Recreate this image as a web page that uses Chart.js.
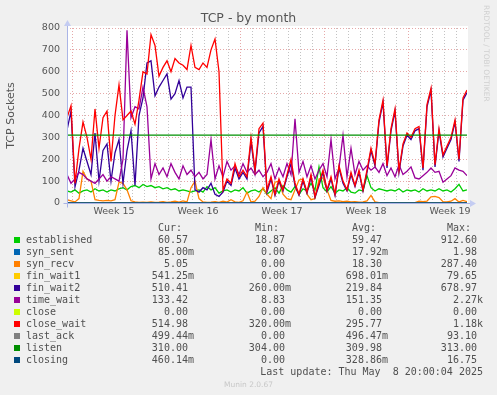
<!DOCTYPE html>
<html>
<head>
<meta charset="utf-8">
<style>
  body { margin: 0; width: 497px; height: 395px; overflow: hidden; position: relative; background: #f0f0f0; font-family: "DejaVu Sans", sans-serif; }
  #chart { position: absolute; left: 0; top: 0; }
  .title { position: absolute; left: 0; top: 11px; width: 497px; text-align: center; font-size: 12.5px; line-height: 14px; color: #555; }
  .rrd { position: absolute; left: 482px; top: 5px; writing-mode: vertical-rl; font-size: 7.5px; color: #d0d0d0; }
  .mono { position: absolute; font-family: "DejaVu Sans Mono", monospace; font-size: 10px; line-height: 12px; color: #505050; white-space: pre; }
  .sq { position: absolute; left: 14px; width: 6px; height: 6px; }
  .footer { position: absolute; left: 0; top: 380px; width: 497px; text-align: center; font-size: 7.5px; color: #c8c8c8; }
</style>
</head>
<body>
<canvas id="chart" width="497" height="395"></canvas>
<div class="title">TCP - by month</div>
<div class="rrd">RRDTOOL / TOBI OETIKER</div>
<div id="legend"></div>
<div class="footer">Munin 2.0.67</div>

<script src="https://cdn.jsdelivr.net/npm/chart.js@4.4.0/dist/chart.umd.min.js"></script>
<script>
  // one sample every 8 hours, 33 days and a bit (800 h)
  const STEP_HOURS = 8

  const established = [55, 50, 60, 45, 55, 60, 50, 65, 55, 60,
    50, 60, 55, 65, 70, 60, 75, 80, 70, 85,
    75, 80, 70, 75, 65, 70, 60, 65, 55, 60,
    55, 50, 55, 60, 50, 75, 60, 70, 45, 55,
    60, 50, 60, 55, 70, 45, 55, 60, 50, 65,
    40, 55, 70, 45, 80, 60, 50, 75, 40, 65,
    55, 90, 60, 165, 70, 50, 75, 45, 60, 55,
    70, 50, 45, 60, 55, 125, 70, 55, 65, 60,
    55, 60, 55, 65, 50, 60, 55, 60, 50, 65,
    55, 60, 55, 65, 55, 60, 50, 65, 85, 55,
    60]

  const synRecv = [15, 10, 5, 20, 145, 110, 100, 15, 12, 10,
    12, 10, 15, 95, 90, 60, 10, 5, 3, 4,
    3, 5, 3, 4, 6, 3, 5, 8, 4, 10,
    5, 70, 100, 20, 5, 3, 4, 6, 3, 8,
    4, 15, 5, 3, 10, 50, 5, 8, 30, 70,
    40, 20, 95, 100, 40, 20, 15, 60, 105, 110,
    40, 15, 20, 110, 115, 60, 12, 8, 10, 6,
    8, 5, 6, 4, 5, 10, 35, 5, 2, 1,
    1, 0, 1, 0, 1, 0, 1, 2, 8, 6,
    9, 28, 30, 25, 6, 5, 8, 20, 5, 12,
    6]

  const finWait2 = [333, 420, 74, 150, 250, 190, 130, 320, 100, 240,
    270, 100, 230, 290, 90, 240, 330, 80, 400, 480,
    640, 650, 490, 530, 560, 590, 475, 500, 560, 480,
    530, 530, 60, 50, 70, 60, 90, 40, 30, 50,
    100, 80, 160, 110, 140, 110, 280, 140, 320, 350,
    50, 110, 35, 100, 55, 120, 180, 80, 35, 100,
    45, 120, 25, 80, 140, 55, 110, 35, 160, 90,
    55, 130, 75, 140, 55, 140, 240, 170, 370, 460,
    160, 330, 420, 140, 260, 310, 290, 330, 340, 150,
    440, 515, 165, 330, 210, 250, 290, 370, 190, 470,
    505]

  const timeWait = [130, 90, 110, 140, 130, 110, 100, 90, 110, 130,
    100, 120, 110, 100, 200, 790, 390, 440, 430, 530,
    440, 110, 180, 130, 160, 120, 180, 140, 110, 170,
    130, 150, 120, 140, 110, 130, 290, 110, 170, 120,
    190, 150, 170, 130, 180, 140, 160, 130, 150, 120,
    140, 180, 110, 160, 120, 180, 130, 385, 140, 190,
    120, 170, 110, 150, 180, 120, 290, 110, 160, 310,
    120, 250, 130, 190, 150, 170, 150, 165, 140, 180,
    125, 160, 120, 175, 130, 145, 165, 115, 110, 125,
    140, 160, 140, 145, 95, 110, 125, 160, 150, 145,
    125]

  const closeWait = [390, 445, 90, 250, 370, 300, 200, 430, 250, 390,
    420, 190, 400, 540, 380, 400, 420, 360, 470, 600,
    590, 770, 720, 580, 620, 650, 600, 660, 640, 630,
    610, 720, 620, 610, 640, 620, 700, 750, 600, 60,
    110, 90, 180, 120, 150, 120, 300, 150, 340, 365,
    60, 120, 40, 110, 60, 130, 200, 90, 40, 110,
    50, 130, 30, 90, 150, 60, 120, 40, 170, 100,
    60, 140, 80, 150, 60, 150, 250, 180, 380, 470,
    170, 340, 430, 150, 270, 320, 300, 340, 350, 160,
    450, 525, 175, 340, 220, 260, 300, 380, 200, 480,
    516]

  // series that stay flat for the whole month
  const flatHours = [0, 800]
  const synSent = [0, 0]
  const finWait1 = [0, 0]
  const closeState = [0, 0]
  const lastAck = [0, 0]
  const listen = [310, 310]
  const closing = [0, 0]

  const fieldNames = ['established', 'syn_sent', 'syn_recv', 'fin_wait1', 'fin_wait2', 'time_wait', 'close', 'close_wait', 'last_ack', 'listen', 'closing']
  const fieldColors = ['#00CC00', '#0066B3', '#FF8000', '#FFCC00', '#330099', '#990099', '#CCFF00', '#FF0000', '#808080', '#008F00', '#00487D']
  const curText = ['60.57', '85.00m', '5.05', '541.25m', '510.41', '133.42', '0.00', '514.98', '499.44m', '310.00', '460.14m']
  const minText = ['18.87', '0.00', '0.00', '0.00', '260.00m', '8.83', '0.00', '320.00m', '0.00', '304.00', '0.00']
  const avgText = ['59.47', '17.92m', '18.30', '698.01m', '219.84', '151.35', '0.00', '295.77', '496.47m', '309.98', '328.86m']
  const maxText = ['912.60', '1.98', '287.40', '79.65', '678.97', '2.27k', '0.00', '1.18k', '93.10', '313.00', '16.75']

  const weekLabels = ['Week 15', 'Week 16', 'Week 17', 'Week 18', 'Week 19']
  const weekMid = [94, 262, 430, 598, 766]
  const firstMonday = 10

  const hours = established.map((_, i) => i * STEP_HOURS)
  const series = [
    [hours, established], [flatHours, synSent], [hours, synRecv], [flatHours, finWait1],
    [hours, finWait2], [hours, timeWait], [flatHours, closeState], [hours, closeWait],
    [flatHours, lastAck], [flatHours, listen], [flatHours, closing]
  ]

  const dayLines = []
  for (let h = firstMonday; h < 800; h += 24) dayLines.push(h)
  const xTickHours = dayLines.concat(weekMid).sort((a, b) => a - b)

  const majorGrid = 'rgba(222, 140, 140, 0.75)'
  const minorGrid = 'rgba(180, 180, 180, 0.8)'

  const plotFrame = {
    id: 'plotFrame',
    beforeDraw(chart) {
      const { ctx, chartArea: a } = chart
      ctx.save()
      ctx.fillStyle = '#ffffff'
      ctx.fillRect(a.left, a.top - 2, a.right - a.left + 1, a.bottom - a.top + 2)
      ctx.restore()
    },
    afterDatasetsDraw(chart) {
      const { ctx, chartArea: a } = chart
      const l = Math.round(a.left) + 0.5
      const b = Math.round(a.bottom) + 0.5
      ctx.save()
      ctx.strokeStyle = '#aab4e6'
      ctx.fillStyle = '#c4ccf2'
      ctx.lineWidth = 1
      ctx.beginPath()
      ctx.moveTo(l - 4, b); ctx.lineTo(a.right + 4, b)
      ctx.moveTo(l, b + 4); ctx.lineTo(l, a.top - 3)
      ctx.stroke()
      ctx.beginPath()
      ctx.moveTo(a.right + 9, b); ctx.lineTo(a.right + 3, b - 3.5); ctx.lineTo(a.right + 3, b + 3.5)
      ctx.fill()
      ctx.beginPath()
      ctx.moveTo(l, a.top - 8); ctx.lineTo(l - 3.5, a.top - 2); ctx.lineTo(l + 3.5, a.top - 2)
      ctx.fill()
      ctx.restore()
    }
  }

  Chart.defaults.font.family = '"DejaVu Sans", sans-serif'

  new Chart(document.getElementById('chart'), {
    type: 'line',
    data: {
      datasets: series.map(([xs, ys], i) => ({
        label: fieldNames[i],
        data: ys.map((y, k) => ({ x: xs[k], y })),
        borderColor: fieldColors[i],
        backgroundColor: fieldColors[i],
        borderWidth: 1.3,
        pointRadius: 0,
        tension: 0,
        order: fieldNames.length - i
      }))
    },
    options: {
      responsive: false,
      animation: false,
      devicePixelRatio: 1,
      layout: { padding: { top: 28, right: 30, left: 0, bottom: 0 } },
      plugins: { legend: { display: false }, tooltip: { enabled: false }, title: { display: false } },
      scales: {
        x: {
          type: 'linear',
          min: 0,
          max: 800,
          afterBuildTicks: s => { s.ticks = xTickHours.map(v => ({ value: v })) },
          afterFit: s => { s.height = 192 },
          ticks: {
            autoSkip: false,
            maxRotation: 0,
            padding: 3,
            color: '#555',
            font: { size: 9.5 },
            callback: v => {
              const k = weekMid.indexOf(v)
              return k >= 0 ? weekLabels[k] : ''
            }
          },
          grid: {
            drawTicks: false,
            color: c => {
              const v = c.tick.value
              if (weekMid.includes(v)) return 'rgba(0,0,0,0)'
              return (v - firstMonday) % 168 === 0 ? majorGrid : minorGrid
            }
          },
          border: { display: false, dash: [1, 2] }
        },
        y: {
          min: 0,
          max: 800,
          afterFit: s => { s.width = 67 },
          ticks: {
            stepSize: 50,
            padding: 7,
            color: '#555',
            font: { size: 9.5 },
            callback: v => (v % 100 === 0 ? v : '')
          },
          title: { display: true, text: 'TCP Sockets', color: '#555', font: { size: 11 }, padding: { top: 5, bottom: 0 } },
          grid: {
            drawTicks: false,
            color: c => (c.tick.value % 100 === 0 ? majorGrid : minorGrid)
          },
          border: { display: false, dash: [1, 2] }
        }
      }
    },
    plugins: [plotFrame]
  })

  // legend table under the plot
  const legend = document.getElementById('legend')
  const addText = (text, rightEdge, centerY) => {
    const el = document.createElement('div')
    el.className = 'mono'
    el.textContent = text
    el.style.right = (497 - rightEdge) + 'px'
    el.style.top = (centerY - 6) + 'px'
    legend.appendChild(el)
  }
  const withUnit = s => (/[0-9]$/.test(s) ? s + ' ' : s)
  const colEdges = [194, 291, 388, 483]

  ;['Cur:', 'Min:', 'Avg:', 'Max:'].forEach((h, c) => addText(h + '  ', colEdges[c], 228))
  fieldNames.forEach((name, i) => {
    const cy = 240 + i * 12
    const sq = document.createElement('div')
    sq.className = 'sq'
    sq.style.top = (cy - 3) + 'px'
    sq.style.background = fieldColors[i]
    legend.appendChild(sq)
    const lab = document.createElement('div')
    lab.className = 'mono'
    lab.textContent = name
    lab.style.left = '26px'
    lab.style.top = (cy - 6) + 'px'
    legend.appendChild(lab)
    ;[curText, minText, avgText, maxText].forEach((col, c) => addText(withUnit(col[i]), colEdges[c], cy))
  })
  addText('Last update: Thu May  8 20:00:04 2025', 483, 372)
</script>
</body>
</html>
